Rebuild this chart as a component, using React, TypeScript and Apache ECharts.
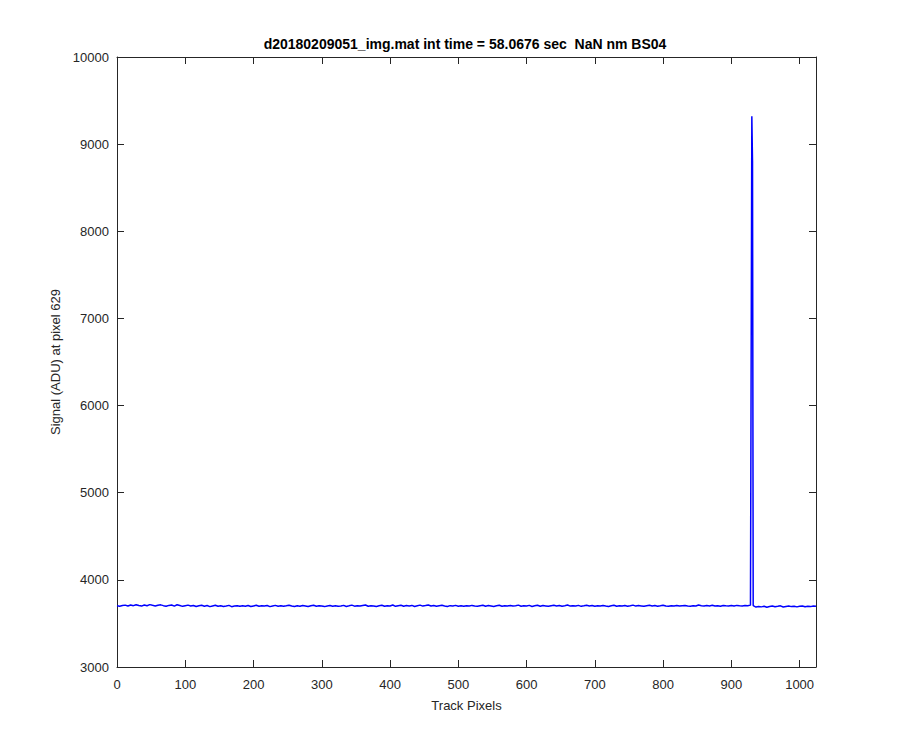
import React, { useEffect, useRef } from "react";
import * as echarts from "echarts";

const titleText = "d20180209051_img.mat int time = 58.0676 sec  NaN nm BS04";
const xName = "Track Pixels";
const yName = "Signal (ADU) at pixel 629";

const xTicks = [0, 100, 200, 300, 400, 500, 600, 700, 800, 900, 1000];
const yTicks = [3000, 4000, 5000, 6000, 7000, 8000, 9000, 10000];

// baseline samples every 4 track pixels (0..1024)
const baselineStep = 4;
const baseline = [
  3702, 3698, 3705, 3710, 3700, 3712, 3704, 3715, 3706, 3699, 3711, 3703, 3716, 3708, 3701, 3709,
  3713, 3704, 3697, 3707, 3711, 3699, 3714, 3705, 3696, 3703, 3710, 3700, 3706, 3694, 3702, 3708,
  3698, 3705, 3693, 3701, 3709, 3697, 3703, 3695, 3700, 3707, 3692, 3699, 3704, 3696, 3702, 3698,
  3706, 3694, 3701, 3708, 3697, 3703, 3699, 3705, 3693, 3700, 3707, 3698, 3704, 3696, 3702, 3709,
  3700, 3695, 3703, 3698, 3706, 3701, 3694, 3702, 3708, 3697, 3704, 3699, 3693, 3701, 3705, 3698,
  3703, 3696, 3700, 3707, 3695, 3702, 3710, 3698, 3704, 3699, 3706, 3712, 3697, 3703, 3700, 3694,
  3702, 3708, 3697, 3704, 3700, 3711, 3696, 3703, 3709, 3698, 3705, 3701, 3707, 3694, 3702, 3710,
  3699, 3705, 3712, 3700, 3706, 3697, 3703, 3709, 3701, 3695, 3704, 3700, 3707, 3698, 3703, 3696,
  3704, 3699, 3707, 3701, 3696, 3703, 3709, 3698, 3705, 3700, 3694, 3702, 3708, 3697, 3703, 3700,
  3706, 3699, 3703, 3710, 3697, 3704, 3700, 3707, 3695, 3702, 3709, 3698, 3705, 3701, 3696, 3703,
  3708, 3700, 3705, 3697, 3703, 3711, 3699, 3704, 3700, 3707, 3696, 3702, 3709, 3701, 3705, 3698,
  3703, 3699, 3706, 3700, 3695, 3702, 3708, 3697, 3704, 3700, 3706, 3698, 3703, 3710, 3699, 3705,
  3701, 3696, 3703, 3708, 3700, 3705, 3698, 3703, 3709, 3700, 3697, 3704, 3700, 3706, 3699, 3703,
  3707, 3701, 3698, 3704, 3700, 3712, 3703, 3699, 3705, 3701, 3708, 3700, 3704, 3698, 3706, 3702,
  3700, 3705, 3699, 3707, 3703, 3701, 3706, 3702, 3710, 3705, 3688, 3695, 3690, 3697, 3686, 3694,
  3699, 3691, 3696, 3702, 3689, 3695, 3700, 3693, 3698, 3690, 3696, 3701, 3692, 3697, 3693, 3700,
  3697,
];

// the spike near track pixel 930
const spikeX = [929, 930, 931];
const spikeY = [3712, 9320, 8800];

const axisColor = "#262626";
const font = "'Liberation Sans', Arial, Helvetica, sans-serif";

export default function App() {
  const ref = useRef<HTMLDivElement>(null);

  useEffect(() => {
    if (!ref.current) return;
    const chart = echarts.init(ref.current, undefined, { renderer: "svg" });

    const pts: [number, number][] = baseline.map((v, i) => [i * baselineStep, v]);
    spikeX.forEach((x, i) => pts.push([x, spikeY[i]]));
    pts.sort((a, b) => a[0] - b[0]);

    const xMin = xTicks[0];
    const xMax = 1024;
    const yMin = yTicks[0];
    const yMax = yTicks[yTicks.length - 1];

    const commonAxisLine = { show: true, onZero: false, lineStyle: { color: axisColor, width: 1 } };
    const commonTick = { show: true, inside: true, length: 7, lineStyle: { color: axisColor, width: 1 } };

    chart.setOption({
      animation: false,
      backgroundColor: "#ffffff",
      textStyle: { fontFamily: font },
      grid: { left: 117, right: 84, top: 57, bottom: 83, containLabel: false },
      graphic: [
        {
          type: "text",
          x: 465,
          y: 44,
          style: {
            text: titleText,
            fontFamily: font,
            fontSize: 14,
            fontWeight: "bold",
            fill: "#000000",
            textAlign: "center",
            textVerticalAlign: "middle",
          },
        },
      ],
      xAxis: [
        {
          type: "value",
          position: "bottom",
          min: xMin,
          max: xMax,
          interval: 100,
          axisLine: commonAxisLine,
          axisTick: commonTick,
          splitLine: { show: false },
          axisLabel: {
            show: true,
            color: axisColor,
            fontSize: 13,
            fontFamily: font,
            margin: 11,
            showMaxLabel: false,
            formatter: (v: number) => (xTicks.includes(v) ? String(v) : ""),
          },
          name: xName,
          nameLocation: "middle",
          nameGap: 32,
          nameTextStyle: { color: axisColor, fontSize: 13, fontFamily: font },
        },
        {
          type: "value",
          position: "top",
          min: xMin,
          max: xMax,
          interval: 100,
          axisLine: commonAxisLine,
          axisTick: commonTick,
          splitLine: { show: false },
          axisLabel: { show: false },
        },
      ],
      yAxis: [
        {
          type: "value",
          position: "left",
          min: yMin,
          max: yMax,
          interval: 1000,
          axisLine: commonAxisLine,
          axisTick: commonTick,
          splitLine: { show: false },
          axisLabel: {
            show: true,
            color: axisColor,
            fontSize: 13,
            fontFamily: font,
            margin: 8,
            formatter: (v: number) => String(v),
          },
          name: yName,
          nameLocation: "middle",
          nameGap: 52,
          nameTextStyle: { color: axisColor, fontSize: 13, fontFamily: font },
        },
        {
          type: "value",
          position: "right",
          min: yMin,
          max: yMax,
          interval: 1000,
          axisLine: commonAxisLine,
          axisTick: commonTick,
          splitLine: { show: false },
          axisLabel: { show: false },
        },
      ],
      series: [
        {
          type: "line",
          xAxisIndex: 0,
          yAxisIndex: 0,
          data: pts,
          showSymbol: false,
          symbol: "none",
          lineStyle: { color: "#0000ff", width: 1.5 },
          silent: true,
        },
      ],
    });

    return () => chart.dispose();
  }, []);

  return (
    <div
      ref={ref}
      style={{ position: "fixed", left: 0, top: 0, width: 900, height: 750, background: "#fff" }}
    />
  );
}
